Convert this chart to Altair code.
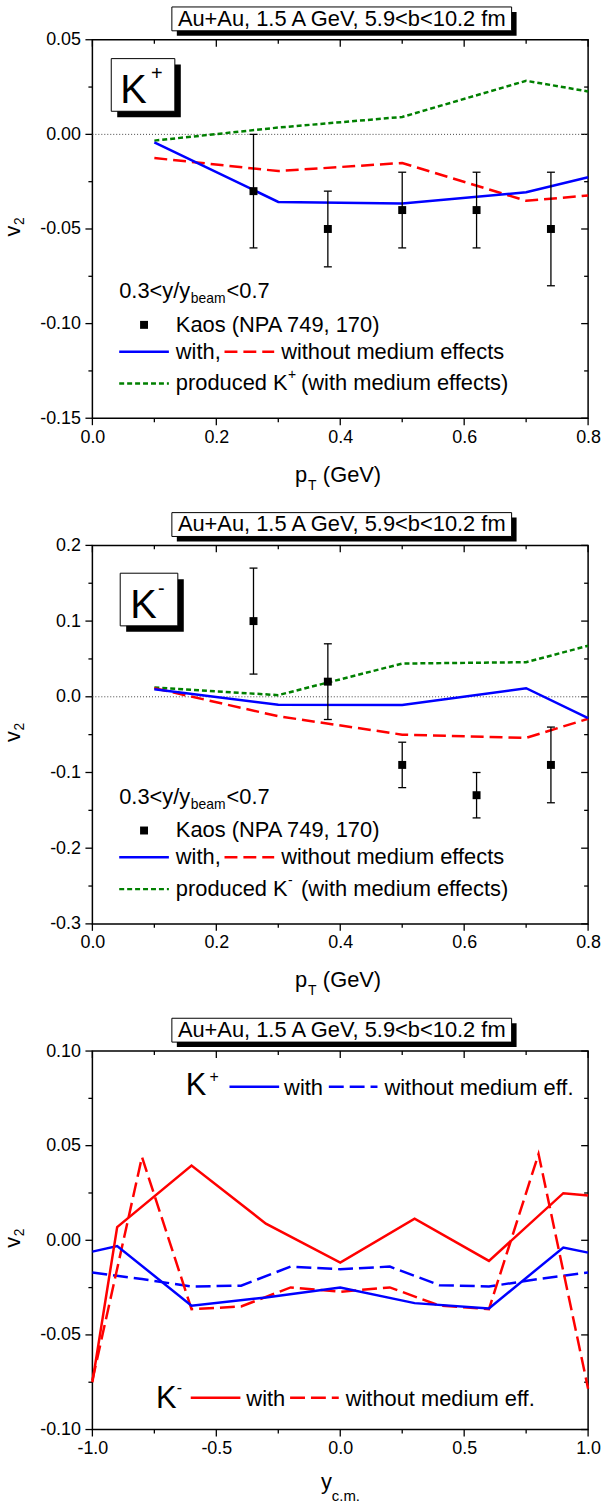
import altair as alt
import pandas as pd

FONT = "Liberation Sans"
W = 499
H = 381
FS = 22

# ---------------- data: panel 1 (K+ v2 vs pT) ----------------
PT_MODEL = [0.1, 0.3, 0.5, 0.7, 0.8]
KP_WITH = [-0.0042, -0.0357, -0.0365, -0.0306, -0.0227]
KP_WITHOUT = [-0.0125, -0.0194, -0.0151, -0.0351, -0.0323]
KP_PRODUCED = [-0.0033, 0.0036, 0.0092, 0.0283, 0.0227]
PT_KAOS = [0.26, 0.38, 0.50, 0.62, 0.74]
KP_KAOS = [-0.03, -0.05, -0.04, -0.04, -0.05]
KP_KAOS_LO = [-0.06, -0.07, -0.06, -0.06, -0.08]
KP_KAOS_HI = [0.0, -0.03, -0.02, -0.02, -0.02]

# ---------------- data: panel 2 (K- v2 vs pT) ----------------
KM_WITH = [0.0100, -0.0104, -0.0109, 0.0113, -0.0283]
KM_WITHOUT = [0.0113, -0.0257, -0.0500, -0.0543, -0.0290]
KM_PRODUCED = [0.0122, 0.0022, 0.0439, 0.0457, 0.0674]
KM_KAOS = [0.10, 0.02, -0.09, -0.13, -0.09]
KM_KAOS_LO = [0.03, -0.03, -0.12, -0.16, -0.14]
KM_KAOS_HI = [0.17, 0.07, -0.06, -0.10, -0.04]

# ---------------- data: panel 3 (v2 vs rapidity) ----------------
Y_WITH = [-1.0, -0.9, -0.6, -0.3, 0.0, 0.3, 0.6, 0.9, 1.0]
KP_Y_WITH = [-0.0060, -0.0030, -0.0346, -0.0302, -0.0249, -0.0332, -0.0360, -0.0038, -0.0065]
KM_Y_WITH = [-0.0750, 0.0070, 0.0395, 0.0088, -0.0118, 0.0114, -0.0109, 0.0249, 0.0237]
Y_WITHOUT = [-1.0, -0.8, -0.6, -0.4, -0.2, 0.0, 0.2, 0.4, 0.6, 0.8, 1.0]
KP_Y_WITHOUT = [-0.0170, -0.0205, -0.0244, -0.0240, -0.0139, -0.0153, -0.0139, -0.0237, -0.0244, -0.0205, -0.0170]
KM_Y_WITHOUT = [-0.0740, 0.0440, -0.0364, -0.0350, -0.0249, -0.0272, -0.0249, -0.0345, -0.0364, 0.0456, -0.0784]

# ---------------- ticks ----------------
PT_MAJOR = [0.0, 0.2, 0.4, 0.6, 0.8]
PT_MINOR = [0.1, 0.3, 0.5, 0.7]
Y1_MAJOR = [-0.15, -0.10, -0.05, 0.0, 0.05]
Y1_MINOR = [-0.125, -0.075, -0.025, 0.025]
Y2_MAJOR = [-0.3, -0.2, -0.1, 0.0, 0.1, 0.2]
Y2_MINOR = [-0.25, -0.15, -0.05, 0.05, 0.15]
R_MAJOR = [-1.0, -0.5, 0.0, 0.5, 1.0]
R_MINOR = [-0.75, -0.25, 0.25, 0.75]
Y3_MAJOR = [-0.10, -0.05, 0.0, 0.05, 0.10]
Y3_MINOR = [-0.075, -0.025, 0.025, 0.075]

TITLE = "Au+Au, 1.5 A GeV, 5.9<b<10.2 fm"

BLUE = "#0000ff"
RED = "#ff0000"
GREEN = "#008000"
DASH = [13, 6]
DASH3 = [15, 6]
DOT = [5, 3]

ONE = alt.Data(values=[{"a": 1}])


def lab_expr(fmt):
    return "replace(format(datum.value, '%s'), '\u2212', '-')" % fmt


def make_enc(xdom, ydom, xmaj, ymaj, xfmt, yfmt):
    xaxis = alt.Axis(values=xmaj, title=None, ticks=False, domain=False, grid=False,
                     labelFont=FONT, labelFontSize=18, labelPadding=10, labelFlush=False,
                     labelOverlap=False, labelColor="black", labelExpr=lab_expr(xfmt))
    yaxis = alt.Axis(values=ymaj, title=None, ticks=False, domain=False, grid=False,
                     labelFont=FONT, labelFontSize=18, labelPadding=12, labelFlush=False,
                     labelOverlap=False, labelColor="black", labelExpr=lab_expr(yfmt))
    xs = alt.Scale(domain=xdom, nice=False, zero=False)
    ys = alt.Scale(domain=ydom, nice=False, zero=False)
    return (lambda f="x": alt.X(f + ":Q", scale=xs, axis=xaxis),
            lambda f="v": alt.Y(f + ":Q", scale=ys, axis=yaxis))


def txt(s, x, y, size=FS, align="left", baseline="middle", angle=None):
    mk = dict(text=s, font=FONT, fontSize=size, align=align, baseline=baseline, color="black")
    if angle is not None:
        mk["angle"] = angle
    return alt.Chart(ONE).mark_text(**mk).encode(x=alt.value(x), y=alt.value(y))


def hline(x1, x2, y, color, dash=None, width=2.5):
    mk = dict(color=color, strokeWidth=width)
    if dash:
        mk["strokeDash"] = dash
    return alt.Chart(ONE).mark_rule(**mk).encode(x=alt.value(x1), x2=alt.value(x2), y=alt.value(y))


def box(x1, x2, y1, y2, sh):
    s = alt.Chart(ONE).mark_rect(color="black").encode(
        x=alt.value(x1 + sh), x2=alt.value(x2 + sh), y=alt.value(y1 + sh), y2=alt.value(y2 + sh))
    b = alt.Chart(ONE).mark_rect(fill="white", stroke="black", strokeWidth=1).encode(
        x=alt.value(x1), x2=alt.value(x2), y=alt.value(y1), y2=alt.value(y2))
    return [s, b]


def ticks(X, Y, xmaj, xmin, ymaj, ymin):
    out = []
    for vals, ln in ((xmaj, 7), (xmin, 4)):
        d = pd.DataFrame({"x": vals})
        out.append(alt.Chart(d).mark_rule(color="black", strokeWidth=1.3).encode(
            x=X(), y=alt.value(H), y2=alt.value(H + ln)))
        out.append(alt.Chart(d).mark_rule(color="black", strokeWidth=1.3).encode(
            x=X(), y=alt.value(0), y2=alt.value(ln)))
    for vals, ln in ((ymaj, 7), (ymin, 4)):
        d = pd.DataFrame({"v": vals})
        out.append(alt.Chart(d).mark_rule(color="black", strokeWidth=1.3).encode(
            y=Y(), x=alt.value(-ln), x2=alt.value(0)))
        out.append(alt.Chart(d).mark_rule(color="black", strokeWidth=1.3).encode(
            y=Y(), x=alt.value(W - ln), x2=alt.value(W)))
    return out


def series(X, Y, xv, yv, color, dash=None):
    d = pd.DataFrame({"x": xv, "v": yv})
    mk = dict(color=color, strokeWidth=2.5)
    if dash:
        mk["strokeDash"] = dash
    return alt.Chart(d).mark_line(**mk).encode(x=X(), y=Y())


def kaos(X, Y, xv, yv, lo, hi):
    d = pd.DataFrame({"x": xv, "v": yv, "lo": lo, "hi": hi})
    bars = alt.Chart(d).mark_rule(color="black", strokeWidth=1.3).encode(x=X(), y=Y("lo"), y2="hi:Q")
    cap1 = alt.Chart(d).mark_tick(orient="horizontal", size=8, thickness=1.3, color="black", opacity=1).encode(x=X(), y=Y("lo"))
    cap2 = alt.Chart(d).mark_tick(orient="horizontal", size=8, thickness=1.3, color="black", opacity=1).encode(x=X(), y=Y("hi"))
    pts = alt.Chart(d).mark_square(size=64, color="black", opacity=1).encode(x=X(), y=Y())
    return [bars, cap1, cap2, pts]


def title_box():
    return box(80, 422, -33, -9, 5) + [txt(TITLE, 251, -21, size=FS, align="center")]


def ylabel():
    return [txt("v", -73, H / 2 + 2, size=FS, align="center", baseline="alphabetic", angle=270),
            txt("2", -69, H / 2 - 8, size=14, align="center", baseline="alphabetic", angle=270)]


def pt_panel(with_v, without_v, prod_v, kv, klo, khi, ydom, ymaj, ymin, yfmt, sign, kbox, kpos):
    X, Y = make_enc([0, 0.8], ydom, PT_MAJOR, ymaj, ".1f", yfmt)
    layers = ticks(X, Y, PT_MAJOR, PT_MINOR, ymaj, ymin)
    layers.append(alt.Chart(ONE).mark_rule(color="#444444", strokeWidth=1, strokeDash=[1, 2]).encode(y=alt.datum(0)))
    layers.append(series(X, Y, PT_MODEL, prod_v, GREEN, DOT))
    layers.append(series(X, Y, PT_MODEL, without_v, RED, DASH))
    layers.append(series(X, Y, PT_MODEL, with_v, BLUE))
    layers += kaos(X, Y, PT_KAOS, kv, klo, khi)
    # K box
    layers += box(*kbox, 6)
    kx, ky, sx, sy = kpos
    layers.append(txt("K", kx, ky, size=40, baseline="alphabetic"))
    layers.append(txt(sign, sx, sy, size=20))
    # legend
    layers.append(txt("0.3<y/y", 27, 253))
    layers.append(txt("beam", 99, 261, size=14))
    layers.append(txt("<0.7", 135, 253))
    layers.append(alt.Chart(ONE).mark_square(size=64, color="black", opacity=1).encode(x=alt.value(52), y=alt.value(287)))
    layers.append(txt("Kaos (NPA 749, 170)", 84, 287))
    layers.append(hline(27, 77, 314, BLUE))
    layers.append(txt("with,", 84, 314))
    layers.append(hline(133, 183, 314, RED, DASH))
    layers.append(txt("without medium effects", 190, 314))
    layers.append(hline(27, 77, 346, GREEN, DOT))
    layers.append(txt("produced K", 84, 346))
    layers.append(txt(sign, 197, 338, size=14))
    layers.append(txt("(with medium effects)", 210, 346))
    # titles
    layers += title_box()
    layers += ylabel()
    layers.append(txt("p", 204, H + 64, baseline="alphabetic"))
    layers.append(txt("T", 217, H + 72, size=14, baseline="alphabetic"))
    layers.append(txt("(GeV)", 232, H + 64, baseline="alphabetic"))
    return alt.layer(*layers).properties(width=W, height=H)


p1 = pt_panel(KP_WITH, KP_WITHOUT, KP_PRODUCED, KP_KAOS, KP_KAOS_LO, KP_KAOS_HI,
              [-0.15, 0.05], Y1_MAJOR, Y1_MINOR, ".2f", "+",
              (19, 83, 19, 72), (28, 64, 59, 35))
p2 = pt_panel(KM_WITH, KM_WITHOUT, KM_PRODUCED, KM_KAOS, KM_KAOS_LO, KM_KAOS_HI,
              [-0.3, 0.2], Y2_MAJOR, Y2_MINOR, ".1f", "-",
              (28, 86, 28, 81), (38, 73, 66, 44))

# ---------------- panel 3 ----------------
X3, Y3 = make_enc([-1, 1], [-0.1, 0.1], R_MAJOR, Y3_MAJOR, ".1f", ".2f")
l3 = ticks(X3, Y3, R_MAJOR, R_MINOR, Y3_MAJOR, Y3_MINOR)
l3.append(series(X3, Y3, Y_WITHOUT, KP_Y_WITHOUT, BLUE, DASH3))
l3.append(series(X3, Y3, Y_WITHOUT, KM_Y_WITHOUT, RED, DASH3))
l3.append(series(X3, Y3, Y_WITH, KP_Y_WITH, BLUE))
l3.append(series(X3, Y3, Y_WITH, KM_Y_WITH, RED))
# legends
l3.append(txt("K", 94, 44, size=31, baseline="alphabetic"))
l3.append(txt("+", 118, 26, size=16))
l3.append(hline(138, 188, 36, BLUE))
l3.append(txt("with", 193, 37))
l3.append(hline(238, 287, 36, BLUE, DASH3))
l3.append(txt("without medium eff.", 294, 37))
l3.append(txt("K", 64, 359, size=31, baseline="alphabetic"))
l3.append(txt("-", 85, 339, size=16))
l3.append(hline(99, 149, 349, RED))
l3.append(txt("with", 155, 350))
l3.append(hline(199, 248, 349, RED, DASH3))
l3.append(txt("without medium eff.", 255, 350))
l3 += title_box()
l3 += ylabel()
l3.append(txt("y", 230, H + 60, baseline="alphabetic"))
l3.append(txt("c.m.", 241, H + 72, size=15, baseline="alphabetic"))
p3 = alt.layer(*l3).properties(width=W, height=H)

chart = alt.vconcat(p1, p2, p3, spacing=128, bounds="flush").configure_view(
    stroke="black", strokeWidth=1.5
).properties(padding={"left": 1, "top": 0, "right": 2, "bottom": 2})

chart.save("out.html", embed_options={"renderer": "svg", "actions": False})
